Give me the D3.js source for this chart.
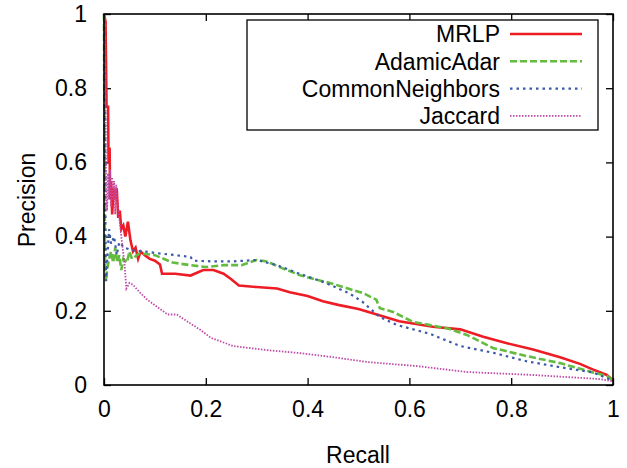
<!DOCTYPE html>
<html>
<head>
<meta charset="utf-8">
<script src="https://cdn.jsdelivr.net/npm/d3@7"></script>
<style>
body { margin: 0; background: #fff; }
text { font-family: "Liberation Sans", Arial, sans-serif; fill: #000; }
</style>
</head>
<body>
<div id="chart"></div>
<script>
var width = 627;
var height = 468;

// [recall, precision]
var mrlp = [[0,1],[0.003,0.98],[0.005,0.75],[0.008,0.75],[0.009,0.6],[0.011,0.64],[0.012,0.5],[0.014,0.55],
    [0.016,0.46],[0.019,0.53],[0.022,0.5],[0.025,0.53],[0.028,0.45],[0.031,0.47],[0.034,0.42],[0.038,0.43],
    [0.042,0.40],[0.047,0.44],[0.052,0.39],[0.057,0.36],[0.062,0.37],[0.067,0.34],[0.072,0.36],[0.08,0.35],
    [0.09,0.34],[0.1,0.335],[0.11,0.325],[0.114,0.30],[0.14,0.30],[0.17,0.295],[0.195,0.31],[0.215,0.31],
    [0.235,0.30],[0.25,0.285],[0.265,0.268],[0.3,0.264],[0.34,0.26],[0.365,0.25],[0.4,0.24],[0.43,0.226],
    [0.46,0.216],[0.5,0.205],[0.536,0.19],[0.58,0.172],[0.646,0.157],[0.7,0.15],[0.745,0.13],[0.79,0.113],
    [0.843,0.096],[0.896,0.075],[0.935,0.057],[0.96,0.042],[0.988,0.027],[1,0.012]];
var adamicAdar = [[0,1],[0.001,0.6],[0.002,0.3],[0.004,0.28],[0.006,0.31],[0.01,0.34],[0.014,0.36],[0.018,0.33],
    [0.022,0.37],[0.026,0.33],[0.03,0.35],[0.034,0.31],[0.038,0.34],[0.045,0.33],[0.05,0.36],[0.055,0.34],
    [0.06,0.345],[0.07,0.355],[0.1,0.35],[0.135,0.33],[0.17,0.323],[0.2,0.318],[0.235,0.323],[0.27,0.323],
    [0.3,0.337],[0.32,0.333],[0.35,0.315],[0.385,0.296],[0.42,0.283],[0.444,0.275],[0.51,0.247],[0.535,0.23],
    [0.542,0.207],[0.568,0.197],[0.607,0.17],[0.674,0.153],[0.713,0.135],[0.764,0.1],[0.83,0.078],
    [0.896,0.059],[0.96,0.034],[0.988,0.025],[1,0.012]];
var commonNeighbors = [[0,1],[0.002,0.95],[0.003,0.4],[0.004,0.28],[0.006,0.33],[0.01,0.42],[0.014,0.38],
    [0.02,0.40],[0.025,0.35],[0.03,0.385],[0.04,0.37],[0.06,0.362],[0.08,0.36],[0.1,0.356],[0.14,0.35],
    [0.17,0.345],[0.175,0.335],[0.22,0.333],[0.25,0.333],[0.3,0.337],[0.34,0.323],[0.38,0.302],[0.43,0.278],
    [0.444,0.27],[0.482,0.247],[0.508,0.224],[0.542,0.183],[0.575,0.162],[0.64,0.138],[0.7,0.105],
    [0.764,0.087],[0.83,0.064],[0.896,0.048],[0.96,0.034],[1,0.012]];
var jaccard = [[0,1],[0.002,0.9],[0.004,0.55],[0.006,0.47],[0.008,0.57],[0.01,0.5],[0.012,0.58],[0.014,0.48],
    [0.016,0.56],[0.018,0.5],[0.02,0.55],[0.022,0.46],[0.024,0.54],[0.026,0.5],[0.03,0.45],[0.034,0.40],
    [0.04,0.33],[0.044,0.26],[0.05,0.275],[0.057,0.27],[0.07,0.25],[0.085,0.23],[0.11,0.205],[0.125,0.19],
    [0.143,0.19],[0.165,0.17],[0.19,0.148],[0.21,0.127],[0.254,0.105],[0.32,0.094],[0.385,0.086],
    [0.45,0.075],[0.517,0.062],[0.615,0.051],[0.713,0.035],[0.843,0.027],[0.974,0.016],[1,0.01]];

var seriesNames = ['MRLP', 'AdamicAdar', 'CommonNeighbors', 'Jaccard'];
var seriesValues = [mrlp, adamicAdar, commonNeighbors, jaccard];
var seriesColors = ['#ee1c25', '#63bb3f', '#3b5aa8', '#c04aa6'];
var seriesDash = [null, '7,3', '2.5,4', '1.5,1.5'];
var seriesWidth = [2.6, 2.6, 2.2, 1.8];
var tickValues = [0, 0.2, 0.4, 0.6, 0.8, 1];

var svg = d3.select('#chart')
    .append('svg')
    .attr('width', width)
    .attr('height', height);

var x = d3.scaleLinear().range([104, 613]).domain([0, 1]);
var y = d3.scaleLinear().range([385, 14]).domain([0, 1]);
var fmt = function(d) { return d3.format('')(d); };

// inward ticks on all four sides
svg.append('g')
    .attr('transform', 'translate(0,385)')
    .call(d3.axisBottom(x).tickValues(tickValues).tickSize(-7).tickPadding(16).tickFormat(fmt));
svg.append('g')
    .attr('transform', 'translate(104,0)')
    .call(d3.axisLeft(y).tickValues(tickValues).tickSize(-7).tickPadding(17).tickFormat(fmt));
svg.append('g')
    .attr('transform', 'translate(0,14)')
    .call(d3.axisTop(x).tickValues(tickValues).tickSize(-7).tickFormat(''));
svg.append('g')
    .attr('transform', 'translate(613,0)')
    .call(d3.axisRight(y).tickValues(tickValues).tickSize(-7).tickFormat(''));

svg.selectAll('.domain').remove();
svg.selectAll('.tick line').attr('stroke', '#000').attr('stroke-width', 1.3);
svg.selectAll('.tick text').style('font-size', '23px');

var line = d3.line()
    .x(function(d) { return x(d[0]); })
    .y(function(d) { return y(d[1]); });

seriesValues.forEach(function(vals, i) {
    svg.append('path')
        .attr('d', line(vals))
        .attr('fill', 'none')
        .attr('stroke', seriesColors[i])
        .attr('stroke-width', seriesWidth[i])
        .attr('stroke-dasharray', seriesDash[i]);
});

svg.append('rect')
    .attr('x', 104).attr('y', 14)
    .attr('width', 509).attr('height', 371)
    .attr('fill', 'none')
    .attr('stroke', '#000')
    .attr('stroke-width', 1.6);

// legend
var legend = svg.append('g');
legend.append('rect')
    .attr('x', 247).attr('y', 20)
    .attr('width', 351).attr('height', 110)
    .attr('fill', '#fff')
    .attr('stroke', '#000')
    .attr('stroke-width', 1.3);
seriesNames.forEach(function(name, i) {
    var ly = 34 + i * 27.3;
    legend.append('text')
        .attr('x', 500).attr('y', ly)
        .attr('dy', '0.36em')
        .attr('text-anchor', 'end')
        .style('font-size', '23px')
        .text(name);
    legend.append('line')
        .attr('x1', 510).attr('x2', 582)
        .attr('y1', ly).attr('y2', ly)
        .attr('stroke', seriesColors[i])
        .attr('stroke-width', seriesWidth[i])
        .attr('stroke-dasharray', seriesDash[i]);
});

svg.append('text')
    .attr('x', 358).attr('y', 463)
    .attr('text-anchor', 'middle')
    .style('font-size', '23px')
    .text('Recall');
svg.append('text')
    .attr('transform', 'translate(35,200) rotate(-90)')
    .attr('text-anchor', 'middle')
    .style('font-size', '23px')
    .text('Precision');
</script>
</body>
</html>
